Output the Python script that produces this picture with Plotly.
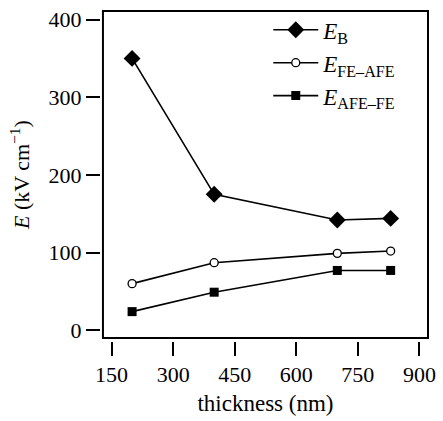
import plotly.graph_objects as go

thickness = [200, 400, 700, 830]
E_B = [350, 175, 142, 144]
E_FE_AFE = [60, 87, 99, 102]
E_AFE_FE = [24, 49, 77, 77]

x_ticks = [150, 300, 450, 600, 750, 900]
y_ticks = [0, 100, 200, 300, 400]

FONT = "Liberation Serif"

fig = go.Figure()
fig.add_trace(go.Scatter(
    x=thickness, y=E_B, mode="lines+markers", name="<i>E</i><sub>B</sub>",
    line=dict(color="black", width=1.6),
    marker=dict(symbol="diamond", size=13, color="black")))
fig.add_trace(go.Scatter(
    x=thickness, y=E_FE_AFE, mode="lines+markers", name="<i>E</i><sub>FE–AFE</sub>",
    line=dict(color="black", width=1.6),
    marker=dict(symbol="circle", size=8, color="white", line=dict(color="black", width=1.3))))
fig.add_trace(go.Scatter(
    x=thickness, y=E_AFE_FE, mode="lines+markers", name="<i>E</i><sub>AFE–FE</sub>",
    line=dict(color="black", width=1.6),
    marker=dict(symbol="square", size=9, color="black")))

fig.add_shape(type="rect", xref="x domain", yref="y domain", x0=0, x1=1, y0=0, y1=1,
              line=dict(color="black", width=2), layer="above")

fig.update_layout(
    width=443, height=421,
    margin=dict(l=100, r=10, t=7, b=80),
    paper_bgcolor="white", plot_bgcolor="white",
    font=dict(family=FONT, size=22, color="black"),
    showlegend=True,
    legend=dict(x=0.513, y=1.008, xanchor="left", yanchor="top",
                bgcolor="rgba(0,0,0,0)", font=dict(family=FONT, size=23, color="black"),
                itemwidth=45, tracegroupgap=0),
    xaxis=dict(domain=[0.009, 1], range=[129, 921], anchor="free", position=0,
               tickmode="array", tickvals=x_ticks, ticktext=[str(v) for v in x_ticks],
               ticks="outside", ticklen=14, tickwidth=2, tickcolor="black",
               showgrid=False, zeroline=False, showline=False,
               title=dict(text="thickness (nm)", standoff=8,
                          font=dict(family=FONT, size=23, color="black")),
               tickfont=dict(family=FONT, size=22, color="black")),
    yaxis=dict(domain=[0.009, 1], range=[-10, 411], anchor="free", position=0,
               tickmode="array", tickvals=y_ticks, ticktext=[str(v) for v in y_ticks],
               ticks="outside", ticklen=14, tickwidth=2, tickcolor="black",
               showgrid=False, zeroline=False, showline=False,
               title=dict(text="<i>E</i> (kV cm<sup>−1</sup>)", standoff=11,
                          font=dict(family=FONT, size=22, color="black")),
               tickfont=dict(family=FONT, size=22, color="black")),
)

fig.write_html("out.html")
